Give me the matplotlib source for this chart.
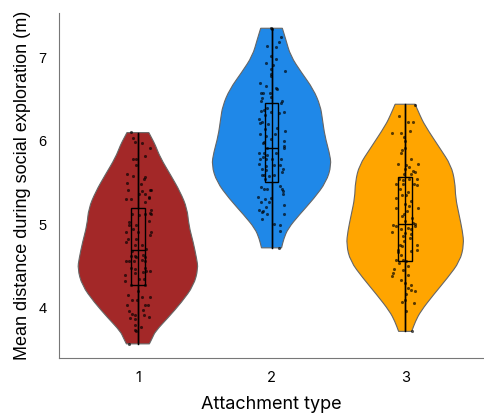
import matplotlib
matplotlib.use("Agg")
import matplotlib.pyplot as plt
from matplotlib.path import Path
from matplotlib.patches import PathPatch
import numpy as np

plt.rcParams['font.family'] = ['Liberation Sans', 'DejaVu Sans']

groups = [1, 2, 3]
colors = ['#A32828', '#1F88E8', '#FFA500']

# violin outline: y level and half width (x units)
prof_y1 = [6.10, 6.03, 5.95, 5.80, 5.59, 5.39, 5.19, 4.99, 4.79, 4.59, 4.47, 4.27, 4.07, 3.88, 3.72, 3.64, 3.57]
prof_w1 = [0.082, 0.105, 0.131, 0.168, 0.246, 0.317, 0.369, 0.381, 0.414, 0.440, 0.451, 0.418, 0.328, 0.224, 0.131, 0.108, 0.086]
prof_y2 = [7.35, 7.22, 7.02, 6.82, 6.62, 6.42, 6.26, 6.06, 5.86, 5.71, 5.51, 5.31, 5.11, 4.95, 4.83, 4.72]
prof_w2 = [0.081, 0.106, 0.142, 0.224, 0.313, 0.366, 0.381, 0.399, 0.433, 0.448, 0.410, 0.317, 0.205, 0.123, 0.092, 0.075]
prof_y3 = [6.44, 6.31, 6.19, 5.91, 5.71, 5.51, 5.32, 5.12, 4.92, 4.76, 4.56, 4.36, 4.16, 3.96, 3.84, 3.72]
prof_w3 = [0.075, 0.110, 0.146, 0.261, 0.343, 0.373, 0.377, 0.403, 0.429, 0.440, 0.410, 0.317, 0.213, 0.116, 0.077, 0.049]

# box stats: min, q1, median, q3, max
stats1 = [3.57, 4.27, 4.70, 5.20, 6.10]
stats2 = [4.72, 5.51, 5.91, 6.45, 7.35]
stats3 = [3.72, 4.56, 5.00, 5.57, 6.44]

# individual points: value and horizontal jitter
y1 = [6.11, 6.04, 5.99, 5.97, 5.92, 5.79, 5.79, 5.82, 5.71, 5.61, 5.58, 5.57, 5.54, 5.50, 5.49, 5.40,
      5.41, 5.41, 5.41, 5.37, 5.37, 5.33, 5.30, 5.30, 5.32, 5.27, 5.17, 5.14, 5.13, 5.13, 5.12, 5.11,
      5.04, 5.03, 4.99, 4.99, 4.95, 4.91, 4.91, 4.91, 4.87, 4.83, 4.83, 4.79, 4.75, 4.75, 4.71, 4.68,
      4.61, 4.62, 4.62, 4.61, 4.63, 4.56, 4.56, 4.56, 4.58, 4.56, 4.48, 4.47, 4.48, 4.44, 4.44, 4.43,
      4.42, 4.40, 4.35, 4.35, 4.32, 4.28, 4.27, 4.20, 4.16, 4.13, 4.13, 4.10, 4.09, 4.04, 4.04, 4.04,
      3.96, 3.97, 3.93, 3.92, 3.88, 3.89, 3.87, 3.91, 3.80, 3.77, 3.74, 3.72, 3.57]
j1 = [-0.050, -0.037, -0.025, 0.030, 0.087, -0.037, -0.017, 0.055, -0.012, -0.080, -0.037, 0.050, 0.045,
      -0.080, 0.020, 0.030, 0.087, 0.095, -0.075, 0.012, 0.050, 0.080, -0.087, -0.055, 0.080, 0.055,
      0.100, 0.087, 0.095, 0.050, -0.045, 0.012, 0.082, -0.070, -0.070, -0.015, -0.037, 0.100, -0.087,
      0.000, 0.087, -0.075, -0.012, -0.087, -0.025, 0.030, 0.062, -0.045, 0.055, -0.025, -0.055, -0.012,
      0.037, -0.087, -0.070, -0.032, 0.030, 0.055, -0.050, -0.025, 0.050, 0.062, 0.087, 0.037, -0.025,
      -0.095, 0.045, 0.012, -0.100, -0.055, 0.050, 0.000, -0.075, 0.030, 0.087, -0.045, -0.005, 0.075,
      0.055, -0.080, -0.070, 0.037, -0.045, -0.020, -0.062, 0.080, -0.025, 0.045, -0.025, 0.025, -0.025,
      -0.012, -0.070]
y2 = [7.35, 7.34, 7.25, 7.18, 7.14, 7.12, 7.02, 6.98, 6.93, 6.91, 6.86, 6.80, 6.84, 6.78, 6.70, 6.66,
      6.63, 6.62, 6.58, 6.58, 6.57, 6.53, 6.52, 6.48, 6.48, 6.46, 6.40, 6.36, 6.37, 6.35, 6.35, 6.34,
      6.31, 6.26, 6.23, 6.20, 6.22, 6.16, 6.14, 6.12, 6.08, 6.08, 6.06, 6.02, 5.99, 6.00, 5.97, 5.94,
      5.91, 5.91, 5.85, 5.85, 5.85, 5.83, 5.81, 5.79, 5.78, 5.78, 5.78, 5.71, 5.73, 5.70, 5.71, 5.66,
      5.66, 5.65, 5.63, 5.59, 5.59, 5.58, 5.55, 5.59, 5.46, 5.45, 5.43, 5.43, 5.40, 5.43, 5.36, 5.33,
      5.31, 5.32, 5.27, 5.27, 5.23, 5.21, 5.17, 5.16, 5.15, 5.12, 5.13, 5.07, 5.01, 4.99, 4.92, 4.72]
j2 = [-0.007, 0.005, 0.072, 0.055, -0.037, 0.030, -0.002, 0.030, -0.045, 0.012, -0.002, -0.002, 0.104,
      -0.007, -0.087, -0.045, 0.030, 0.042, -0.082, -0.062, -0.012, -0.002, -0.070, -0.082, 0.080, 0.072,
      -0.037, -0.082, -0.057, -0.007, 0.092, 0.055, -0.052, -0.095, -0.070, -0.027, -0.087, 0.042, -0.052,
      0.100, -0.087, 0.025, -0.045, -0.007, -0.057, 0.092, -0.065, 0.097, 0.092, -0.032, -0.095, -0.057,
      0.030, -0.032, -0.062, -0.087, -0.045, 0.005, 0.072, 0.067, -0.095, -0.045, 0.017, -0.070, 0.087,
      -0.045, 0.080, -0.057, -0.075, -0.020, -0.052, 0.022, 0.067, -0.082, 0.080, -0.057, 0.087, -0.037,
      0.087, -0.102, -0.052, -0.007, -0.082, -0.020, 0.092, -0.045, -0.095, -0.065, -0.070, 0.097, -0.037,
      -0.070, 0.017, 0.067, 0.060, 0.055]
y3 = [6.43, 6.30, 6.23, 6.23, 6.09, 6.10, 6.12, 6.05, 6.00, 5.91, 5.89, 5.85, 5.73, 5.73, 5.79, 5.71,
      5.69, 5.67, 5.64, 5.63, 5.61, 5.60, 5.55, 5.55, 5.55, 5.53, 5.49, 5.48, 5.48, 5.47, 5.43, 5.39,
      5.35, 5.35, 5.32, 5.28, 5.20, 5.24, 5.20, 5.22, 5.16, 5.12, 5.10, 5.08, 5.04, 5.02, 5.00, 4.99,
      4.98, 4.96, 4.95, 4.94, 4.98, 4.90, 4.88, 4.91, 4.86, 4.84, 4.80, 4.76, 4.74, 4.76, 4.70, 4.70,
      4.67, 4.68, 4.64, 4.57, 4.57, 4.56, 4.54, 4.50, 4.47, 4.46, 4.42, 4.40, 4.38, 4.34, 4.30, 4.28,
      4.24, 4.21, 4.20, 4.17, 4.10, 4.07, 4.06, 3.96, 3.72]
j3 = [0.077, -0.047, 0.022, 0.060, -0.097, -0.032, 0.035, -0.007, 0.002, 0.002, -0.022, -0.032, -0.052,
      0.097, 0.047, 0.010, 0.030, 0.002, 0.060, 0.077, 0.047, -0.007, 0.092, 0.027, -0.047, -0.015, -0.065,
      -0.015, 0.067, 0.085, -0.040, 0.022, 0.010, -0.022, -0.065, 0.042, -0.072, 0.002, 0.097, 0.027, 0.017,
      -0.007, -0.027, 0.052, -0.002, 0.060, 0.077, -0.090, -0.065, 0.022, -0.032, 0.047, 0.077, 0.002, 0.042,
      -0.102, -0.015, 0.035, -0.007, -0.040, -0.022, 0.092, -0.052, 0.085, -0.052, 0.042, -0.032, -0.015,
      -0.065, 0.010, -0.047, 0.022, -0.082, -0.015, -0.090, 0.022, -0.097, -0.032, 0.002, 0.047, 0.022,
      0.047, 0.072, 0.010, 0.002, -0.027, 0.067, 0.010, 0.052]

profiles = [(prof_y1, prof_w1), (prof_y2, prof_w2), (prof_y3, prof_w3)]
stats = [stats1, stats2, stats3]
points = [(y1, j1), (y2, j2), (y3, j3)]


def smooth_side(pts):
    # quadratic bezier through midpoints, read points act as control points
    verts = [pts[0]]
    codes = [Path.LINETO]
    verts.append((pts[0] + pts[1]) / 2)
    codes.append(Path.LINETO)
    for k in range(1, len(pts) - 1):
        verts.append(pts[k])
        verts.append((pts[k] + pts[k + 1]) / 2)
        codes += [Path.CURVE3, Path.CURVE3]
    verts.append(pts[-1])
    codes.append(Path.LINETO)
    return verts, codes


def violin_path(g, py, pw):
    right = np.column_stack([g + pw, py])
    left = np.column_stack([g - pw, py])[::-1]
    v1, c1 = smooth_side(right)
    v2, c2 = smooth_side(left)
    verts = v1 + v2 + [v1[0]]
    codes = [Path.MOVETO] + c1[1:] + c2 + [Path.CLOSEPOLY]
    return Path(verts, codes)


fig = plt.figure(figsize=(4.84, 4.13), dpi=100)
ax = fig.add_axes([0.122, 0.133, 0.878, 0.835])

for i, g in enumerate(groups):
    py = np.array(profiles[i][0])
    pw = np.array(profiles[i][1])
    ax.add_patch(PathPatch(violin_path(g, py, pw), facecolor=colors[i], edgecolor='#666666',
                           linewidth=0.8, zorder=1))
    s = stats[i]
    ax.vlines(g, s[0], s[4], color='black', linewidth=1.0, zorder=2)
    ax.bxp([{'med': s[2], 'q1': s[1], 'q3': s[3], 'whislo': s[0], 'whishi': s[4]}],
           positions=[g], widths=0.1, showcaps=False, showfliers=False, patch_artist=True,
           boxprops=dict(facecolor='none', edgecolor='black', linewidth=1.0),
           medianprops=dict(color='black', linewidth=1.0),
           whiskerprops=dict(color='black', linewidth=1.0), zorder=3)
    ax.scatter(g + np.array(points[i][1]), points[i][0], s=5, color='black', alpha=0.65,
               linewidths=0, zorder=4)

ax.set_xlim(0.41, 3.59)
ax.set_ylim(3.40, 7.53)
ax.set_xticks(groups)
ax.set_xticklabels([str(g) for g in groups])
ax.set_yticks([4, 5, 6, 7])
ax.tick_params(length=0, labelsize=10.5, pad=9)
for lab in ax.get_xticklabels():
    lab.set_family(['Inter', 'DejaVu Sans'])
for side in ['top', 'right']:
    ax.spines[side].set_visible(False)
for side in ['left', 'bottom']:
    ax.spines[side].set_color('#777777')
ax.set_xlabel('Attachment type', fontsize=13, family=['Inter', 'DejaVu Sans'], labelpad=8)
ax.set_ylabel('Mean distance during social exploration (m)', fontsize=13, labelpad=5)

fig.savefig('out.png', dpi=100)
